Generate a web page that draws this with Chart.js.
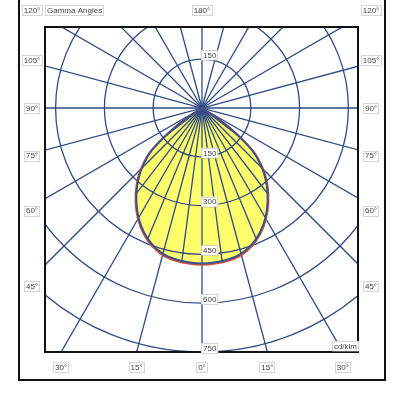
<!DOCTYPE html>
<html>
<head>
<meta charset="utf-8">
<script src="https://cdn.jsdelivr.net/npm/chart.js@4/dist/chart.umd.min.js"></script>
<style>
  html, body { margin: 0; padding: 0; background: #fff; }
  #wrap { position: relative; width: 400px; height: 400px; }
</style>
</head>
<body>
<div id="wrap"><canvas id="polar" width="400" height="400"></canvas></div>
<script>
// Gamma angles (deg) and luminous intensity (cd/klm)
const gammaAngles  = [0, 5, 10, 15, 20, 25, 30, 35, 40, 45, 50, 55, 60, 65, 70, 75, 80, 85, 90];
const intensityC0  = [482, 480, 476, 468, 451, 426, 394, 356, 314, 266, 204, 96, 0, 0, 0, 0, 0, 0, 0];   // C0-C180 (red)
const intensityC90 = [478, 476, 472, 464, 447, 422, 390, 352, 310, 262, 200, 92, 0, 0, 0, 0, 0, 0, 0];   // C90-C270 (blue)

// grid
const ringValues    = [150, 300, 450, 600, 750];
const spokeAngles   = [0, 15, 30, 45, 60, 75, 90, 105, 120, 135, 150, 165, 180, 195, 210, 225, 240, 255, 270, 285, 300, 315, 330, 345];
const lobeRayAngles = [-52.5, -37.5, -22.5, -7.5, 7.5, 22.5, 37.5, 52.5];   // extra rays, only inside the lobe
const sideLabels    = [120, 105, 90, 75, 60, 45];
const bottomLabels  = [-30, -15, 0, 15, 30];

const GRID = '#2f4a85';

// polar -> cartesian, left half (C180/C270) then right half (C0/C90)
function toPoints(vals) {
  const pts = [];
  for (let i = gammaAngles.length - 1; i >= 0; i--) {
    const g = gammaAngles[i] * Math.PI / 180;
    pts.push({ x: -vals[i] * Math.sin(g), y: -vals[i] * Math.cos(g) });
  }
  for (let i = 1; i < gammaAngles.length; i++) {
    const g = gammaAngles[i] * Math.PI / 180;
    pts.push({ x: vals[i] * Math.sin(g), y: -vals[i] * Math.cos(g) });
  }
  return pts;
}

function tag(ctx, text, x, y, align) {
  ctx.font = '8px "Liberation Sans", Arial, sans-serif';
  const w = ctx.measureText(text).width;
  let left = x - w / 2;
  if (align === 'left') left = x;
  if (align === 'right') left = x - w;
  ctx.save();
  ctx.fillStyle = '#fff';
  ctx.fillRect(left - 2, y - 5, w + 4, 10);
  ctx.setLineDash([1, 1]);
  ctx.strokeStyle = '#aaa';
  ctx.lineWidth = 1;
  ctx.strokeRect(Math.round(left - 2) + 0.5, Math.round(y - 5) + 0.5, Math.round(w + 3), 10);
  ctx.restore();
  ctx.fillStyle = '#444';
  ctx.textBaseline = 'middle';
  ctx.textAlign = 'left';
  ctx.fillText(text, left, y + 0.5);
}

function ray(ctx, cx, cy, deg) {
  const rad = deg * Math.PI / 180;
  ctx.beginPath();
  ctx.moveTo(cx, cy);
  ctx.lineTo(cx + 1000 * Math.sin(rad), cy + 1000 * Math.cos(rad));
  ctx.stroke();
}

const polarGrid = {
  id: 'polarGrid',
  afterDatasetDraw(chart, args) {
    if (args.index !== 2) return;
    const { ctx, chartArea: a } = chart;
    const xs = chart.scales.x, ys = chart.scales.y;
    const cx = xs.getPixelForValue(0), cy = ys.getPixelForValue(0);
    ctx.save();
    ctx.beginPath();
    ctx.rect(a.left, a.top, a.right - a.left, a.bottom - a.top);
    ctx.clip();
    ctx.strokeStyle = GRID;
    ctx.lineWidth = 1.3;
    ringValues.forEach(v => {
      const r = ys.getPixelForValue(-v) - cy;
      ctx.beginPath();
      ctx.arc(cx, cy, r, 0, Math.PI * 2);
      ctx.stroke();
    });
    spokeAngles.forEach(g => ray(ctx, cx, cy, g));

    // rays inside the light distribution
    const lobe = chart.getDatasetMeta(2).dataset;
    ctx.beginPath();
    lobe.path(ctx);
    ctx.closePath();
    ctx.clip();
    lobeRayAngles.forEach(g => ray(ctx, cx, cy, g));
    ctx.restore();
  },
  afterDraw(chart) {
    const { ctx, chartArea: a } = chart;
    const xs = chart.scales.x, ys = chart.scales.y;
    const cx = xs.getPixelForValue(0), cy = ys.getPixelForValue(0);
    ctx.save();
    // outer frame and plot box
    ctx.strokeStyle = '#111';
    ctx.lineWidth = 2;
    ctx.strokeRect(19, -10, 366, 390);
    ctx.strokeRect(a.left, a.top, a.right - a.left, a.bottom - a.top);

    // ring values
    ringValues.forEach(v => {
      tag(ctx, String(v), cx + 1, ys.getPixelForValue(-v) - 4, 'left');
    });
    tag(ctx, '150', cx + 1, ys.getPixelForValue(150) - 4, 'left');
    tag(ctx, 'cd/klm', a.right - 1, a.bottom - 6, 'right');

    // gamma angle labels
    tag(ctx, 'Gamma Angles', 47, 10, 'left');
    tag(ctx, '180°', cx, 10);
    sideLabels.forEach(g => {
      const rad = g * Math.PI / 180;
      let y = g === 90 ? cy : cy + 178 / Math.tan(rad);
      y = Math.max(10, y);
      tag(ctx, g + '°', 32, y);
      tag(ctx, g + '°', 371, y);
    });
    bottomLabels.forEach(g => {
      const x = cx + (a.bottom - cy) * Math.tan(g * Math.PI / 180);
      tag(ctx, Math.abs(g) + '°', x, 367);
    });
    ctx.restore();
  }
};

new Chart(document.getElementById('polar'), {
  type: 'scatter',
  data: {
    datasets: [
      { data: toPoints(intensityC90), showLine: true, borderColor: '#3b4f93', borderWidth: 2, pointRadius: 0, tension: 0.3, fill: false, order: 0 },
      { data: toPoints(intensityC0), showLine: true, borderColor: '#e0502e', borderWidth: 2, pointRadius: 0, tension: 0.3, fill: false, order: 1 },
      { data: toPoints(intensityC0), showLine: true, borderWidth: 0, borderColor: 'rgba(0,0,0,0)', backgroundColor: '#ffff6e', pointRadius: 0, tension: 0.3, fill: 'shape', order: 2 }
    ]
  },
  options: {
    responsive: false,
    animation: false,
    layout: { padding: { left: 45, top: 27, right: 42, bottom: 48 } },
    scales: {
      x: { type: 'linear', min: -483, max: 480, display: false },
      y: { type: 'linear', min: -750, max: 249, display: false }
    },
    plugins: { legend: { display: false }, tooltip: { enabled: false } }
  },
  plugins: [polarGrid]
});
</script>
</body>
</html>
